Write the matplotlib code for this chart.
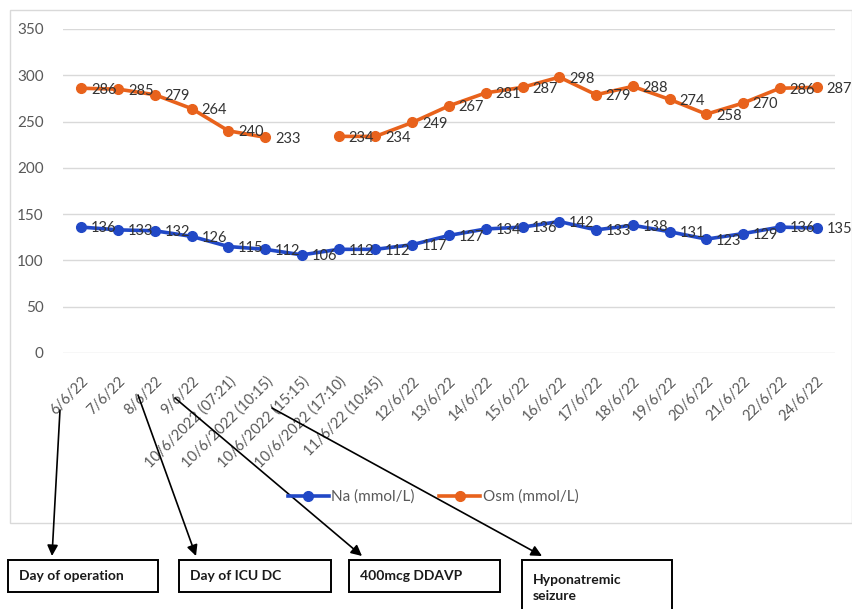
import numpy as np
import matplotlib
matplotlib.use("Agg")
import matplotlib.pyplot as plt
from matplotlib.patches import Rectangle, FancyArrowPatch

plt.rcParams['font.family'] = ['Lato', 'DejaVu Sans']

dates = ["6/6/22", "7/6/22", "8/6/22", "9/6/22",
         "10/6/2022 (07:21)", "10/6/2022 (10:15)", "10/6/2022 (15:15)",
         "10/6/2022 (17:10)", "11/6/22 (10:45)", "12/6/22", "13/6/22",
         "14/6/22", "15/6/22", "16/6/22", "17/6/22", "18/6/22", "19/6/22",
         "20/6/22", "21/6/22", "22/6/22", "24/6/22"]
na = [136, 133, 132, 126, 115, 112, 106, 112, 112, 117, 127,
      134, 136, 142, 133, 138, 131, 123, 129, 136, 135]
osm = [286, 285, 279, 264, 240, 233, np.nan, 234, 234, 249, 267,
       281, 287, 298, 279, 288, 274, 258, 270, 286, 287]

events = ["Day of operation", "Day of ICU DC", "400mcg DDAVP", "Hyponatremic\nseizure"]

W, H = 852, 609


def px(x, y):
    # pixel position (from top-left) -> figure fraction
    return x / W, 1 - y / H


fig = plt.figure(figsize=(W / 100, H / 100), dpi=100)
ax = fig.add_axes([63 / W, (H - 353) / H, 772 / W, 324 / H])

x = np.arange(len(dates))
blue = '#2148C6'
orange = '#E8621C'
ax.plot(x, na, color=blue, lw=2.6, marker='o', ms=7, label='Na (mmol/L)', zorder=3)
ax.plot(x, osm, color=orange, lw=2.6, marker='o', ms=7, label='Osm (mmol/L)', zorder=3)

for xi, v in zip(x, na):
    ax.annotate(f"{v}", (xi, v), xytext=(7, -1), textcoords='offset points',
                va='center', ha='left', fontsize=10.5, color='#333333', zorder=4,
                annotation_clip=False)
for xi, v in zip(x, osm):
    if not np.isnan(v):
        ax.annotate(f"{v:.0f}", (xi, v), xytext=(7, -1), textcoords='offset points',
                    va='center', ha='left', fontsize=10.5, color='#333333', zorder=4,
                    annotation_clip=False)

ax.set_xlim(-0.5, len(dates) - 0.5)
ax.set_ylim(0, 350)
ax.set_yticks(range(0, 351, 50))
ax.set_xticks(x)
ax.set_xticklabels(dates, rotation=45, ha='right', rotation_mode='anchor',
                   fontsize=10.5, color='#595959')
ax.tick_params(axis='x', length=0, pad=15)
ax.tick_params(axis='y', length=0, pad=14, labelsize=11, labelcolor='#595959')
ax.grid(axis='y', color='#D9D9D9', lw=1)
ax.set_axisbelow(True)
for s in ax.spines.values():
    s.set_visible(False)

fig.legend(loc='center', bbox_to_anchor=px(433, 497), ncol=2, frameon=False,
           fontsize=11, labelcolor='#595959', handlelength=2.7,
           handletextpad=0.15, columnspacing=1.6)

# chart border
x0, y0 = px(10, 523)
fig.add_artist(Rectangle((x0, y0), (W - 10) / W, 513 / H, transform=fig.transFigure,
                         fill=False, edgecolor='#D9D9D9', lw=1))

# event boxes below the chart
boxes = [(8, 150), (179, 152), (349, 151), (522, 150)]
for (bx, bw), label in zip(boxes, events):
    fx, fy = px(bx, 592 if '\n' not in label else 640)
    bh = (592 - 560) / H if '\n' not in label else 80 / H
    fig.add_artist(Rectangle((fx, fy), bw / W, bh, transform=fig.transFigure,
                             fill=False, edgecolor='black', lw=1.4))
    tx, ty = px(bx + 11, 576 if '\n' not in label else 588)
    fig.text(tx, ty, label, ha='left', va='center', fontsize=10, fontweight='bold',
             color='#1a1a1a', linespacing=1.5)

# arrows from the dates to the events
arrows = [((60, 410), (52, 556)), ((138, 395), (196, 556)),
          ((175, 398), (362, 556)), ((272, 408), (542, 556))]
for start, end in arrows:
    fig.add_artist(FancyArrowPatch(px(*start), px(*end), transform=fig.transFigure,
                                   arrowstyle='-|>', mutation_scale=16, lw=1.2,
                                   color='black', shrinkA=0, shrinkB=0))

fig.savefig("out.png", dpi=100)
